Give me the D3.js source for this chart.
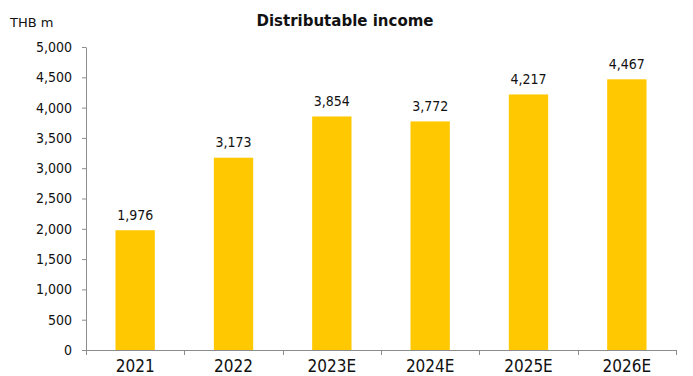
<!DOCTYPE html>
<html>
<head>
<meta charset="utf-8">
<script src="https://cdn.jsdelivr.net/npm/d3@7"></script>
<style>
  html, body { margin: 0; padding: 0; background: #fff; }
  svg { display: block; }
  text { font-family: "DejaVu Sans Condensed", "DejaVu Sans", sans-serif; font-stretch: condensed; fill: #111; }
  text.wide { font-family: "DejaVu Sans", sans-serif; font-stretch: normal; }
</style>
</head>
<body>
<svg id="chart" width="693" height="376"></svg>
<script>
// Distributable income by year (THB m)
const categories = ["2021", "2022", "2023E", "2024E", "2025E", "2026E"];
const values = [1976, 3173, 3854, 3772, 4217, 4467];
const yTicks = [0, 500, 1000, 1500, 2000, 2500, 3000, 3500, 4000, 4500, 5000];
const title = "Distributable income";
const unitLabel = "THB m";

const svg = d3.select("#chart");
const margin = { left: 86, right: 17, top: 47, bottom: 26 };
const W = 693, H = 376;
const plotBottom = 350;

const x = d3.scaleBand()
  .domain(categories)
  .range([margin.left, W - margin.right])
  .paddingInner(0)
  .paddingOuter(0);

const y = d3.scaleLinear()
  .domain([0, 5000])
  .range([plotBottom, margin.top]);

const fmt = d3.format(",");
const axisColor = "#8c8c8c";
const barColor = "#FFC800";

// Bars
const barW = x.bandwidth() * 0.4;
svg.append("g")
  .selectAll("rect")
  .data(values)
  .join("rect")
  .attr("x", (d, i) => x(categories[i]) + (x.bandwidth() - barW) / 2)
  .attr("y", d => y(d))
  .attr("width", barW)
  .attr("height", d => y(0) - y(d))
  .attr("fill", barColor);

// Value labels
svg.append("g")
  .selectAll("text")
  .data(values)
  .join("text")
  .attr("x", (d, i) => x(categories[i]) + x.bandwidth() / 2)
  .attr("y", d => y(d) - 10.5)
  .attr("text-anchor", "middle")
  .attr("font-size", 14)
  .text(d => fmt(d));

// Y axis
const yAxis = svg.append("g")
  .attr("transform", `translate(${margin.left},0)`)
  .call(d3.axisLeft(y).tickValues(yTicks).tickFormat(fmt).tickSize(4).tickPadding(10).tickSizeOuter(0));
yAxis.select(".domain").attr("stroke", axisColor);
yAxis.selectAll(".tick line").attr("stroke", axisColor);
yAxis.selectAll(".tick text")
  .attr("font-size", 14)
  .attr("font-family", null)
  .attr("fill", "#111");

// X axis: ticks at category boundaries
const xAxisG = svg.append("g").attr("transform", `translate(0,${plotBottom})`);
xAxisG.append("line")
  .attr("x1", x.range()[0]).attr("x2", x.range()[1])
  .attr("y1", 0.5).attr("y2", 0.5)
  .attr("stroke", axisColor);
const boundaries = categories.map(c => x(c)).concat([x.range()[1]]);
xAxisG.selectAll("line.tk")
  .data(boundaries)
  .join("line")
  .attr("class", "tk")
  .attr("x1", d => Math.round(d) + 0.5).attr("x2", d => Math.round(d) + 0.5)
  .attr("y1", 0).attr("y2", 5)
  .attr("stroke", axisColor);
xAxisG.selectAll("text")
  .data(categories)
  .join("text")
  .attr("x", d => x(d) + x.bandwidth() / 2)
  .attr("y", 22)
  .attr("text-anchor", "middle")
  .attr("font-size", 17)
  .text(d => d);

// Title and unit label
svg.append("text")
  .attr("class", "wide")
  .attr("x", 345)
  .attr("y", 26)
  .attr("text-anchor", "middle")
  .attr("font-size", 15)
  .attr("font-weight", "bold")
  .text(title);

svg.append("text")
  .attr("class", "wide")
  .attr("x", 10)
  .attr("y", 27)
  .attr("font-size", 13)
  .text(unitLabel);
</script>
</body>
</html>
